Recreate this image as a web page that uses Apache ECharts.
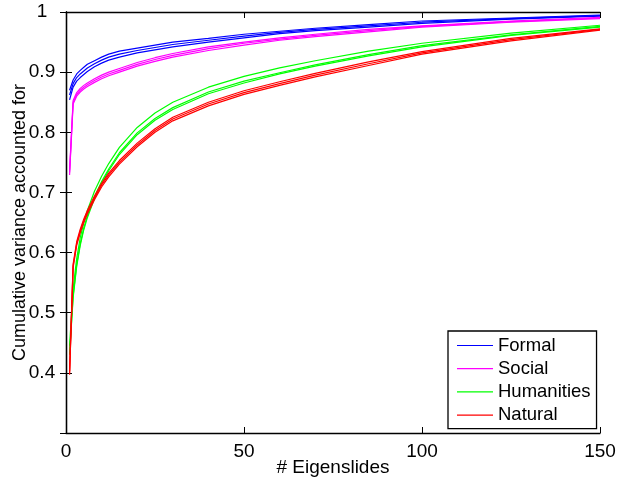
<!DOCTYPE html>
<html>
<head>
<meta charset="utf-8">
<script src="https://cdn.jsdelivr.net/npm/echarts@6/dist/echarts.min.js"></script>
<style>
html,body{margin:0;padding:0;background:#fff;}
#chart{width:626px;height:477px;}
</style>
</head>
<body>
<div id="chart"></div>
<script>
// x positions (# Eigenslides) at which values were read
const xs = [1, 2, 3, 4, 5, 6, 8, 10, 12, 15, 20, 25, 30, 40, 50, 60, 70, 85, 100, 125, 150];

// Formal (blue), three curves
const formalLow  = [0.854, 0.875, 0.885, 0.891, 0.896, 0.901, 0.909, 0.915, 0.920, 0.925, 0.932, 0.937, 0.942, 0.950, 0.957, 0.964, 0.969, 0.975, 0.981, 0.988, 0.993];
const formalMid  = [0.862, 0.881, 0.891, 0.897, 0.902, 0.907, 0.914, 0.920, 0.925, 0.930, 0.936, 0.941, 0.946, 0.953, 0.960, 0.966, 0.971, 0.977, 0.983, 0.989, 0.994];
const formalHigh = [0.870, 0.887, 0.897, 0.903, 0.908, 0.913, 0.919, 0.925, 0.930, 0.935, 0.940, 0.945, 0.950, 0.956, 0.963, 0.968, 0.973, 0.979, 0.985, 0.990, 0.995];

// Social (magenta)
const socialLow  = [0.729, 0.847, 0.860, 0.867, 0.872, 0.876, 0.883, 0.889, 0.894, 0.900, 0.910, 0.918, 0.925, 0.936, 0.945, 0.953, 0.959, 0.967, 0.975, 0.983, 0.989];
const socialMid  = [0.733, 0.850, 0.863, 0.870, 0.875, 0.879, 0.886, 0.892, 0.897, 0.903, 0.913, 0.921, 0.928, 0.939, 0.948, 0.955, 0.961, 0.969, 0.976, 0.984, 0.990];
const socialHigh = [0.737, 0.853, 0.866, 0.873, 0.878, 0.882, 0.889, 0.895, 0.900, 0.906, 0.916, 0.924, 0.931, 0.942, 0.950, 0.957, 0.963, 0.971, 0.977, 0.985, 0.991];

// Humanities (green)
const humLow  = [0.430, 0.525, 0.577, 0.612, 0.638, 0.658, 0.690, 0.715, 0.736, 0.763, 0.796, 0.820, 0.838, 0.864, 0.882, 0.897, 0.910, 0.927, 0.942, 0.961, 0.975];
const humMid  = [0.433, 0.528, 0.580, 0.615, 0.641, 0.661, 0.693, 0.718, 0.739, 0.766, 0.799, 0.823, 0.841, 0.867, 0.885, 0.899, 0.912, 0.929, 0.944, 0.962, 0.976];
const humHigh = [0.445, 0.540, 0.590, 0.625, 0.650, 0.670, 0.702, 0.727, 0.748, 0.775, 0.808, 0.832, 0.850, 0.875, 0.893, 0.907, 0.919, 0.935, 0.948, 0.965, 0.978];

// Natural (red)
const natLow  = [0.397, 0.575, 0.612, 0.633, 0.650, 0.664, 0.688, 0.709, 0.726, 0.747, 0.776, 0.800, 0.819, 0.844, 0.863, 0.878, 0.892, 0.911, 0.930, 0.952, 0.970];
const natMid  = [0.400, 0.578, 0.615, 0.636, 0.653, 0.667, 0.691, 0.712, 0.729, 0.750, 0.779, 0.803, 0.822, 0.847, 0.866, 0.881, 0.895, 0.914, 0.932, 0.954, 0.971];
const natHigh = [0.403, 0.581, 0.618, 0.639, 0.656, 0.670, 0.694, 0.715, 0.732, 0.753, 0.782, 0.806, 0.825, 0.850, 0.869, 0.884, 0.898, 0.917, 0.934, 0.956, 0.972];

const legendNames = ['Formal', 'Social', 'Humanities', 'Natural'];
const xTicks = [0, 50, 100, 150];
const yTicks = [0.4, 0.5, 0.6, 0.7, 0.8, 0.9, 1];

const groups = [
  {name: 'Formal', color: '#0000ff', lines: [formalLow, formalMid, formalHigh]},
  {name: 'Social', color: '#ff00ff', lines: [socialLow, socialMid, socialHigh]},
  {name: 'Humanities', color: '#00ff00', lines: [humLow, humMid, humHigh]},
  {name: 'Natural', color: '#ff0000', lines: [natLow, natMid, natHigh]}
];

const FONT = 'Liberation Sans, Arial, Helvetica, sans-serif';
const series = [];
groups.forEach(g => {
  g.lines.forEach(arr => {
    series.push({
      type: 'line',
      name: g.name,
      data: xs.map((x, i) => [x, arr[i]]),
      showSymbol: false,
      symbol: 'none',
      smooth: false,
      color: g.color,
      lineStyle: {color: g.color, width: 1.2},
      emphasis: {disabled: true},
      animation: false,
      xAxisIndex: 0,
      yAxisIndex: 0
    });
  });
});

const chart = echarts.init(document.getElementById('chart'), null, {renderer: 'canvas'});
const tickStyle = {show: true, inside: true, length: 6, lineStyle: {color: '#000', width: 1}};
const lineStyle = {show: true, lineStyle: {color: '#000', width: 1.3}};
chart.setOption({
  animation: false,
  backgroundColor: '#fff',
  grid: {left: 66, right: 26, top: 12, bottom: 44, containLabel: false, outerBoundsMode: 'none'},
  legend: {
    data: legendNames.map(n => ({name: n, icon: 'rect'})),
    orient: 'vertical',
    left: 448,
    top: 331,
    itemWidth: 36,
    itemHeight: 1.2,
    itemGap: 4.2,
    padding: [5, 6, 4, 9],
    backgroundColor: '#fff',
    borderColor: '#000',
    borderWidth: 1.3,
    borderRadius: 0,
    selectedMode: false,
    textStyle: {fontFamily: FONT, fontSize: 18.5, color: '#000', lineHeight: 18, padding: [0, 0, 0, 0]}
  },
  xAxis: [
    {
      type: 'value', min: 0, max: 150, interval: 50,
      name: '# Eigenslides', nameLocation: 'middle', nameGap: 25, nameMoveOverlap: false,
      nameTextStyle: {fontFamily: FONT, fontSize: 19, color: '#000'},
      axisLine: lineStyle, axisTick: tickStyle,
      axisLabel: {fontFamily: FONT, fontSize: 19, color: '#000', margin: 9,
        formatter: v => xTicks.includes(v) ? String(v) : ''},
      splitLine: {show: false}
    },
    {
      type: 'value', min: 0, max: 150, interval: 50, position: 'top',
      axisLine: lineStyle, axisTick: tickStyle, axisLabel: {show: false}, splitLine: {show: false}
    }
  ],
  yAxis: [
    {
      type: 'value', min: 0.3, max: 1, interval: 0.1,
      name: 'Cumulative variance accounted for', nameLocation: 'middle', nameGap: 37, nameMoveOverlap: false,
      nameTextStyle: {fontFamily: FONT, fontSize: 18, color: '#000'},
      axisLine: lineStyle, axisTick: tickStyle,
      axisLabel: {fontFamily: FONT, fontSize: 19, color: '#000', margin: 24, align: 'center',
        formatter: v => {
          const r = Math.round(v * 10) / 10;
          return yTicks.some(t => Math.abs(t - r) < 1e-9) ? String(r) : '';
        }},
      splitLine: {show: false}
    },
    {
      type: 'value', min: 0.3, max: 1, interval: 0.1, position: 'right',
      axisLine: lineStyle, axisTick: tickStyle, axisLabel: {show: false}, splitLine: {show: false}
    }
  ],
  series: series
});
</script>
</body>
</html>
